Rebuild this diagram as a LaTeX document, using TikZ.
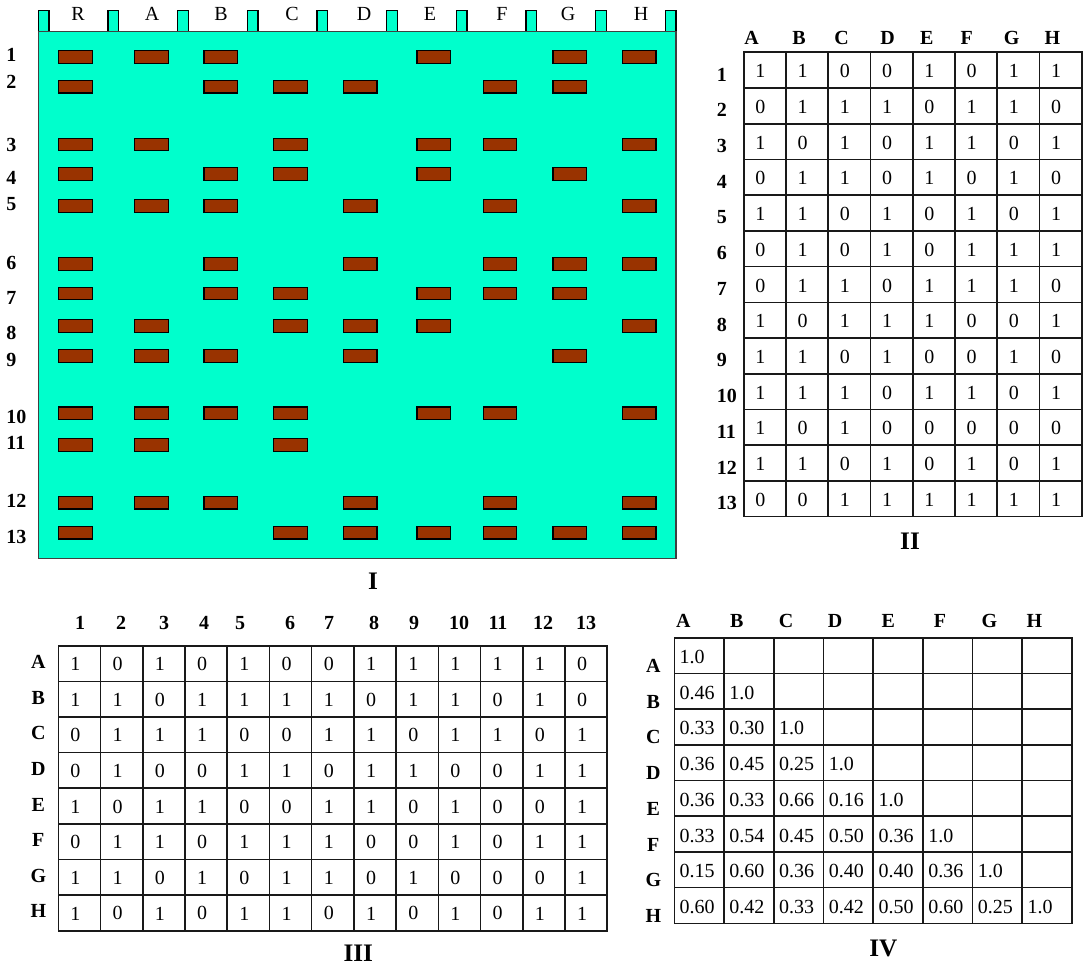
\documentclass[tikz,border=0pt]{standalone}
\usepackage{fontspec}
\setmainfont{Liberation Serif}
\usepackage{xcolor}
\usepackage{tikz}

\definecolor{gelgreen}{HTML}{00FFCC}
\definecolor{bandbrown}{HTML}{993300}

\begin{document}
\begin{tikzpicture}[
    x=0.5pt, y=-0.5pt,
    gelbox/.style={draw=black!75, fill=gelgreen, line width=0.6pt},
    well/.style={draw=black, fill=gelgreen, line width=0.6pt},
    band/.style={
        rectangle, draw=black, fill=bandbrown, line width=0.6pt,
        inner sep=0pt, minimum width=16.75pt, minimum height=6.35pt
    },
    lane/.style={font=\fontsize{10}{12}\selectfont, inner sep=0pt},
    rowlbl/.style={font=\fontsize{10}{12}\selectfont\bfseries, inner sep=0pt},
    cell/.style={font=\fontsize{10}{12}\selectfont, inner sep=0pt},
    panel/.style={font=\fontsize{12.6}{15}\selectfont\bfseries, inner sep=0pt},
    tablines/.style={draw=black!90, line width=0.8pt, line cap=rect}
]

\path[use as bounding box, fill=white] (0,0) rectangle (1086,967);

% Gel (I)
\foreach \i in {0,...,9}
    \draw[well] ({38.3+\i*69.67},10.7) rectangle ++(10.7,21.6);
\draw[gelbox] (38.3,31.7) rectangle (676,558.3);

\foreach \l/\x in {R/78, A/152, B/221, C/292, D/364, E/430, F/502, G/568, H/641}
    \node[lane] (lbl\l) at (\x,14) {\l};

\foreach \l/\x in {R/75.6, A/151.5, B/220.7, C/290.6, D/360.2, E/433.7, F/499.9, G/569.8, H/639.2}
    \coordinate (lane\l) at (\x,0);

\foreach \r/\y/\ly in {1/56.8/55, 2/86.7/81.7, 3/144.5/145, 4/174/177.7, 5/206/204,
        6/263.8/263, 7/293.5/298, 8/325.8/333, 9/355.8/360, 10/413.3/416.7,
        11/445/443, 12/502.7/501, 13/532.7/536.7} {
    \coordinate (row\r) at (0,\y);
    \node[rowlbl, anchor=west] (num\r) at (6,\ly) {\r};
}

\foreach \r/\lanes in {1/{R,A,B,E,G,H}, 2/{R,B,C,D,F,G}, 3/{R,A,C,E,F,H},
        4/{R,B,C,E,G}, 5/{R,A,B,D,F,H}, 6/{R,B,D,F,G,H}, 7/{R,B,C,E,F,G},
        8/{R,A,C,D,E,H}, 9/{R,A,B,D,G}, 10/{R,A,B,C,E,F,H}, 11/{R,A,C},
        12/{R,A,B,D,F,H}, 13/{R,C,D,E,F,G,H}}
    \foreach \l in \lanes
        \node[band] (band-\r-\l) at (lane\l |- row\r) {};

\node[panel] (titleI) at (373,581) {I};

% Table II
\foreach \c in {0,...,8}
    \draw[tablines] ({743.7+\c*42.25},52.3) -- ++(0,464.4);
\foreach \r in {0,...,13}
    \draw[tablines] (743.7,{52.3+\r*35.72}) -- ++(338,0);

\foreach \h/\x in {A/751.7, B/799, C/841.7, D/887.7, E/926.7, F/966.7, G/1011.7, H/1052.3}
    \node[rowlbl] (iihead\h) at (\x,38.3) {\h};

\foreach \r/\vals in {1/{1,1,0,0,1,0,1,1}, 2/{0,1,1,1,0,1,1,0}, 3/{1,0,1,0,1,1,0,1},
        4/{0,1,1,0,1,0,1,0}, 5/{1,1,0,1,0,1,0,1}, 6/{0,1,0,1,0,1,1,1},
        7/{0,1,1,0,1,1,1,0}, 8/{1,0,1,1,1,0,0,1}, 9/{1,1,0,1,0,0,1,0},
        10/{1,1,1,0,1,1,0,1}, 11/{1,0,1,0,0,0,0,0}, 12/{1,1,0,1,0,1,0,1},
        13/{0,0,1,1,1,1,1,1}} {
    \node[rowlbl, anchor=west] (iirow\r) at (716.5,{52.3+(\r-0.5)*35.72+4.5}) {\r};
    \foreach \v [count=\c] in \vals
        \node[cell] (ii-\r-\c) at ({743.7+(\c-0.5)*42.25-4.5},{52.3+(\r-0.5)*35.72+1}) {\v};
}

\node[panel] (titleII) at (910,541.7) {II};

% Table III
\foreach \c in {0,...,13}
    \draw[tablines] ({58.3+\c*42.23},645.7) -- ++(0,285);
\foreach \r in {0,...,8}
    \draw[tablines] (58.3,{645.7+\r*35.63}) -- ++(549,0);

\foreach \h/\x in {1/80, 2/121, 3/164, 4/204, 5/240, 6/290, 7/329, 8/374,
        9/414, 10/459, 11/498, 12/543, 13/586}
    \node[rowlbl] (iiihead\h) at (\x,622.7) {\h};

\foreach \n/\r/\vals in {A/1/{1,0,1,0,1,0,0,1,1,1,1,1,0}, B/2/{1,1,0,1,1,1,1,0,1,1,0,1,0},
        C/3/{0,1,1,1,0,0,1,1,0,1,1,0,1}, D/4/{0,1,0,0,1,1,0,1,1,0,0,1,1},
        E/5/{1,0,1,1,0,0,1,1,0,1,0,0,1}, F/6/{0,1,1,0,1,1,1,0,0,1,0,1,1},
        G/7/{1,1,0,1,0,1,1,0,1,0,0,0,1}, H/8/{1,0,1,0,1,1,0,1,0,1,0,1,1}} {
    \node[rowlbl] (iiirow\n) at (38.3,{645.7+(\r-0.5)*35.63-1.5}) {\n};
    \foreach \v [count=\c] in \vals
        \node[cell] (iii-\n-\c) at ({58.3+(\c-0.5)*42.23-4},{645.7+(\r-0.5)*35.63+0.5}) {\v};
}

\node[panel] (titleIII) at (358.3,953.5) {III};

% Table IV
\foreach \c in {0,...,8}
    \draw[tablines] ({674.3+\c*49.71},637.7) -- ++(0,285.6);
\foreach \r in {0,...,8}
    \draw[tablines] (674.3,{637.7+\r*35.7}) -- ++(397.7,0);

\foreach \h/\x in {A/683.3, B/736.7, C/786, D/835, E/888.3, F/940, G/989.3, H/1034.3}
    \node[rowlbl] (ivhead\h) at (\x,620.7) {\h};

\foreach \n/\r/\vals in {A/1/{1.0}, B/2/{0.46,1.0}, C/3/{0.33,0.30,1.0},
        D/4/{0.36,0.45,0.25,1.0}, E/5/{0.36,0.33,0.66,0.16,1.0},
        F/6/{0.33,0.54,0.45,0.50,0.36,1.0}, G/7/{0.15,0.60,0.36,0.40,0.40,0.36,1.0},
        H/8/{0.60,0.42,0.33,0.42,0.50,0.60,0.25,1.0}} {
    \node[rowlbl] (ivrow\n) at (653.3,{637.7+(\r-0.5)*35.7+10.5}) {\n};
    \foreach \v [count=\c] in \vals
        \node[cell, anchor=west] (iv-\n-\c) at ({674.3+(\c-1)*49.71+5},{637.7+(\r-0.5)*35.7+1.5}) {\v};
}

\node[panel] (titleIV) at (883.3,948.3) {IV};

\end{tikzpicture}
\end{document}
